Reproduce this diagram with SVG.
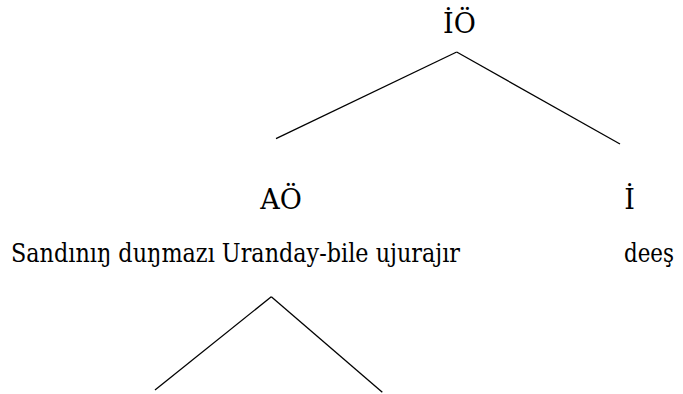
<svg xmlns="http://www.w3.org/2000/svg" width="683" height="394" viewBox="0 0 683 394">
<style>
text{font-family:'DejaVu Serif','Liberation Serif',serif;font-size:26px;fill:#000}
.lab{font-size:27px}
line{stroke:#000;stroke-width:1.3;fill:none}
</style>
<rect width="683" height="394" fill="#fff"/>
<g id="connectors">
<line x1="456.7" y1="52" x2="276" y2="138.7"/>
<line x1="456.7" y1="52" x2="620" y2="144"/>
<line x1="271.3" y1="296.7" x2="155" y2="390"/>
<line x1="271.3" y1="296.7" x2="382.3" y2="392.3"/>
</g>
<g id="IO"><text class="lab" x="459.5" y="33" text-anchor="middle">İÖ</text></g>
<g id="AO"><text class="lab" x="281" y="209" text-anchor="middle">AÖ</text></g>
<g id="I"><text class="lab" x="629.5" y="209" text-anchor="middle">İ</text></g>
<g id="phrase"><text x="11" y="262" textLength="449" lengthAdjust="spacingAndGlyphs">Sandınıŋ duŋmazı Uranday-bile ujurajır</text></g>
<g id="dees"><text x="624" y="262" textLength="50" lengthAdjust="spacingAndGlyphs">deeş</text></g>
</svg>
